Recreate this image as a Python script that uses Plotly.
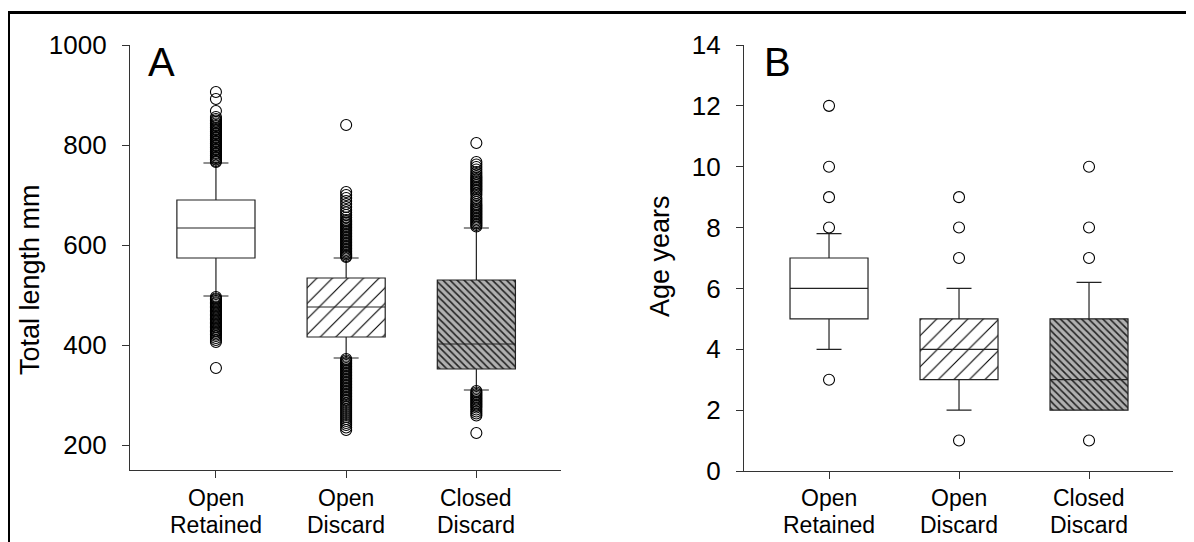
import plotly.graph_objects as go

W, H = 1194, 542
OFF = 8  # page body margin

categories_line1 = ["Open", "Open", "Closed"]
categories_line2 = ["Retained", "Discard", "Discard"]
xpos = [1, 2, 3]

# Panel A: Total length (mm)
a_q1 = [574, 416, 352]
a_med = [634, 476, 402]
a_q3 = [690, 534, 530]
a_lo = [498, 374, 310]
a_hi = [764, 574, 634]
a_out_retained = [906, 892, 868, 856, 852, 849, 846, 843, 840, 838, 835, 832, 830, 827, 824,
                  822, 819, 816, 814, 811, 808, 806, 803, 800, 798, 795, 792, 790, 787, 784,
                  782, 779, 776, 774, 771, 768, 766,
                  496, 493, 491, 488, 485, 483, 480, 477, 475, 472, 469, 467, 464, 461, 459,
                  456, 453, 451, 448, 445, 443, 440, 437, 435, 432, 429, 427, 424, 421, 418,
                  414, 410, 406, 354]
a_out_open_discard = [840, 706, 700, 694, 688, 682, 676, 670, 665, 660, 655, 650, 647, 644,
                      641, 638, 635, 632, 629, 626, 623, 620, 617, 614, 611, 608, 605, 602,
                      599, 596, 593, 590, 587, 584, 581, 578, 576,
                      372, 369, 366, 363, 360, 357, 354, 351, 348, 345, 342, 339, 336, 333,
                      330, 327, 324, 321, 318, 315, 312, 309, 306, 303, 300, 297, 294, 291,
                      288, 284, 280, 276, 272, 268, 264, 260, 256, 252, 248, 244, 240, 235,
                      230]
a_out_closed_discard = [804, 766, 761, 756, 751, 746, 742, 738, 735, 732, 729, 726, 723, 720,
                        717, 714, 711, 708, 704, 700, 694, 690, 686, 682, 679, 676, 673, 670,
                        667, 664, 661, 658, 655, 652, 649, 646, 643, 640, 637,
                        308, 305, 302, 299, 296, 293, 290, 287, 284, 281, 278, 275, 271, 267,
                        263, 259, 224]
a_ticks = [200, 400, 600, 800, 1000]

# Panel B: Age (years)
b_q1 = [5, 3, 2]
b_med = [6, 4, 3]
b_q3 = [7, 5, 5]
b_lo = [4, 2, 2]
b_hi = [7.8, 6, 6.2]
b_out_retained = [12, 10, 9, 8, 3]
b_out_open_discard = [9, 8, 7, 1]
b_out_closed_discard = [10, 8, 7, 1]
b_ticks = [0, 2, 4, 6, 8, 10, 12, 14]

FONT = "Liberation Sans, Arial, sans-serif"

fills = [
    dict(color="white", pattern=dict(shape="")),
    dict(color="white", pattern=dict(shape="/", fgcolor="black", bgcolor="white",
                                     size=11, solidity=0.1, fillmode="replace")),
    dict(color="#b0b0b0", pattern=dict(shape="\\", fgcolor="#222", bgcolor="#b0b0b0",
                                       size=5, solidity=0.32, fillmode="replace")),
]

fig = go.Figure()


def add_panel(xa, ya, q1, med, q3, lo, hi, outs):
    for i in range(3):
        fig.add_trace(go.Bar(x=[xpos[i]], y=[q3[i] - q1[i]], base=[q1[i]], width=0.6,
                             marker=dict(line=dict(width=0), **fills[i]),
                             xaxis=xa, yaxis=ya, showlegend=False, hoverinfo="skip"))
    fig.add_trace(go.Box(x=xpos, q1=q1, median=med, q3=q3, lowerfence=lo, upperfence=hi,
                         width=0.6, whiskerwidth=0.32, boxpoints=False,
                         fillcolor="rgba(0,0,0,0)", line=dict(color="#222", width=1.2),
                         xaxis=xa, yaxis=ya, showlegend=False))
    for i, o in enumerate(outs):
        fig.add_trace(go.Scatter(x=[xpos[i]] * len(o), y=o, mode="markers",
                                 marker=dict(symbol="circle-open", size=11,
                                             color="black", line=dict(width=1.1)),
                                 xaxis=xa, yaxis=ya, showlegend=False))


add_panel("x", "y", a_q1, a_med, a_q3, a_lo, a_hi,
          [a_out_retained, a_out_open_discard, a_out_closed_discard])
add_panel("x2", "y2", b_q1, b_med, b_q3, b_lo, b_hi,
          [b_out_retained, b_out_open_discard, b_out_closed_discard])


def px_x(p):
    return (p - OFF) / W


def px_y(p):
    return 1 - (p - OFF) / H


axis_common = dict(showgrid=False, zeroline=False, showline=True, linecolor="#333",
                   linewidth=1.2, ticks="outside", ticklen=7, tickcolor="#333",
                   tickwidth=1.2, mirror=False, automargin=False)

fig.update_layout(
    width=W, height=H, margin=dict(l=0, r=0, t=0, b=0, autoexpand=False),
    paper_bgcolor="white", plot_bgcolor="white",
    barmode="overlay", showlegend=False,
    font=dict(family=FONT, color="black"),
    xaxis=dict(domain=[px_x(130), px_x(561)], range=[0.34, 3.65], tickvals=xpos,
               showticklabels=False, **axis_common),
    yaxis=dict(domain=[px_y(470), px_y(45)], range=[150, 1000], tickvals=a_ticks,
               tickfont=dict(size=26), ticklabelstandoff=10, **axis_common),
    xaxis2=dict(domain=[px_x(744), px_x(1173)], range=[0.346, 3.646], tickvals=xpos,
                showticklabels=False, anchor="y2", **axis_common),
    yaxis2=dict(domain=[px_y(471), px_y(45)], range=[0, 14], tickvals=b_ticks,
                tickfont=dict(size=26), ticklabelstandoff=10, anchor="x2", **axis_common),
)

# two-line category labels under each x axis
for xa in ["x", "x2"]:
    for i in range(3):
        fig.add_annotation(text=categories_line1[i], x=xpos[i], xref=xa, y=px_y(498),
                           yref="paper", showarrow=False, font=dict(size=23, family=FONT),
                           xanchor="center", yanchor="middle")
        fig.add_annotation(text=categories_line2[i], x=xpos[i], xref=xa, y=px_y(525),
                           yref="paper", showarrow=False, font=dict(size=23, family=FONT),
                           xanchor="center", yanchor="middle")

fig.add_annotation(text="Total length mm", x=px_x(30), y=px_y(280), xref="paper", yref="paper",
                   textangle=-90, showarrow=False, font=dict(size=27, family=FONT),
                   xanchor="center", yanchor="middle")
fig.add_annotation(text="Age years", x=px_x(660), y=px_y(256), xref="paper", yref="paper",
                   textangle=-90, showarrow=False, font=dict(size=27, family=FONT),
                   xanchor="center", yanchor="middle")
fig.add_annotation(text="A", x=px_x(146), y=px_y(62), xref="paper", yref="paper",
                   showarrow=False, font=dict(size=40, family=FONT),
                   xanchor="left", yanchor="middle")
fig.add_annotation(text="B", x=px_x(762), y=px_y(62), xref="paper", yref="paper",
                   showarrow=False, font=dict(size=40, family=FONT),
                   xanchor="left", yanchor="middle")

# outer frame
fig.add_shape(type="rect", xref="paper", yref="paper", x0=px_x(8.5), y0=px_y(600),
              x1=px_x(1250), y1=px_y(12.5), line=dict(color="black", width=3),
              fillcolor="rgba(0,0,0,0)")

fig.write_html("out.html")
